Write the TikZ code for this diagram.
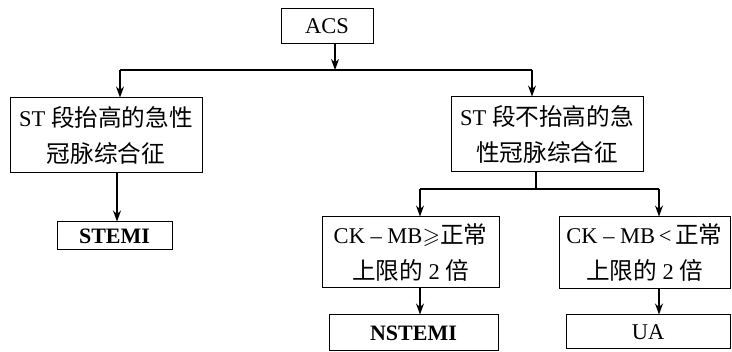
\documentclass[tikz,border=0pt]{standalone}
\usepackage{amssymb}
\usepackage{fontspec}
\setmainfont{Liberation Serif}
\newfontfamily\cjk[Scale=1.05]{Noto Sans CJK SC}
\usetikzlibrary{arrows.meta}
\begin{document}
\begin{tikzpicture}[x=1pt,y=-1pt,
  box/.style={draw,line width=1pt,inner sep=0pt,align=center,
    font=\fontsize{22.5}{36}\selectfont},
  arr/.style={line width=1.1pt,-{Stealth[length=11pt,width=8pt]}},
  ln/.style={line width=1.1pt}]
\useasboundingbox (0,0) rectangle (732,352);
\node[box,minimum width=92pt,minimum height=35pt] (acs) at (327,26.5) {ACS};
\node[box,minimum width=192pt,minimum height=75pt] (left) at (106,135.5) {ST {\cjk 段抬高的急性}\\{\cjk 冠脉综合征}};
\node[box,minimum width=115pt,minimum height=28pt,font=\fontsize{22}{35}\selectfont\bfseries] (stemi) at (114.5,236) {STEMI};
\node[box,minimum width=192pt,minimum height=75pt] (right) at (547,134.5) {ST {\cjk 段不抬高的急}\\{\cjk 性冠脉综合征}};
\node[box,minimum width=177pt,minimum height=71pt] (ckl) at (410.5,252.5) {CK -- MB$\geqslant${\cjk 正常}\\{\cjk 上限的} 2 {\cjk 倍}};
\node[box,minimum width=171pt,minimum height=72pt] (ckr) at (644.5,253) {CK -- MB\,<\,{\cjk 正常}\\{\cjk 上限的} 2 {\cjk 倍}};
\node[box,minimum width=169pt,minimum height=36pt,font=\fontsize{22}{35}\selectfont\bfseries] (nstemi) at (413.5,333) {NSTEMI};
\node[box,minimum width=164pt,minimum height=34pt] (ua) at (648,332) {UA};
\coordinate (hA) at (335,70);
\coordinate (hL) at (120,70);
\coordinate (hR) at (532,70);
\coordinate (vL) at (117,0);
\coordinate (hM) at (536,189);
\coordinate (h2L) at (420,189);
\coordinate (h2R) at (659,189);
\draw[arr] (hA |- acs.south) -- (hA);
\draw[ln] (hL) -- (hR);
\draw[arr] (hL) -- (hL |- left.north);
\draw[arr] (hR) -- (hR |- right.north);
\draw[arr] (vL |- left.south) -- (vL |- stemi.north);
\draw[line width=2pt] (hM |- right.south) -- (hM);
\draw[ln] (h2L) -- (h2R);
\draw[arr] (h2L) -- (h2L |- ckl.north);
\draw[arr] (h2R) -- (h2R |- ckr.north);
\draw[arr] (h2L |- ckl.south) -- (h2L |- nstemi.north);
\draw[arr] (h2R |- ckr.south) -- (h2R |- ua.north);
\end{tikzpicture}
\end{document}
